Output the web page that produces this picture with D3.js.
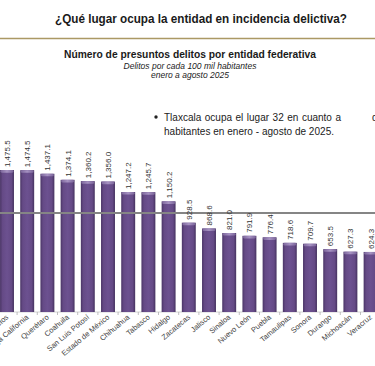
<!DOCTYPE html>
<html>
<head>
<meta charset="utf-8">
<script src="https://cdn.jsdelivr.net/npm/d3@7"></script>
<style>
  body { margin: 0; background: #fff; }
  svg { display: block; font-family: "Liberation Sans", Arial, sans-serif; }
</style>
</head>
<body>
<div id="chart"></div>
<script>
// Datos (delitos por cada 100 mil habitantes)
const entidades = [
  "Morelos", "Baja California", "Querétaro", "Coahuila", "San Luis Potosí",
  "Estado de México", "Chihuahua", "Tabasco", "Hidalgo", "Zacatecas",
  "Jalisco", "Sinaloa", "Nuevo León", "Puebla", "Tamaulipas",
  "Sonora", "Durango", "Michoacán", "Veracruz"
];
const tasas = [
  1475.5, 1474.5, 1437.1, 1374.1, 1360.2,
  1356.0, 1247.2, 1245.7, 1150.2, 928.5,
  868.6, 821.0, 791.9, 776.4, 718.6,
  709.7, 653.5, 627.3, 624.3
];
const promedioNacional = 1030;

const titulo = "¿Qué lugar ocupa la entidad en incidencia delictiva?";
const subtitulo = "Número de presuntos delitos por entidad federativa";
const notas = ["Delitos por cada 100 mil habitantes", "enero a agosto 2025"];

const W = 375, H = 366;
const step = 20.2;
const baseY = 312;

const svg = d3.select("#chart").append("svg")
  .attr("width", W).attr("height", H);

// gradient for the bars
const defs = svg.append("defs");
const grad = defs.append("linearGradient").attr("id", "barGrad")
  .attr("x1", "0").attr("x2", "1").attr("y1", "0").attr("y2", "0");
[[0, "#4a3566"], [0.18, "#654a86"], [0.5, "#6c5190"], [0.82, "#654a86"], [1, "#45325f"]]
  .forEach(s => grad.append("stop").attr("offset", s[0]).attr("stop-color", s[1]));
const capGrad = defs.append("linearGradient").attr("id", "capGrad")
  .attr("x1", "0").attr("x2", "1").attr("y1", "0").attr("y2", "0");
[[0, "#7d679c"], [0.5, "#a692c2"], [1, "#7a6499"]]
  .forEach(s => capGrad.append("stop").attr("offset", s[0]).attr("stop-color", s[1]));

// header
svg.append("text")
  .attr("x", 55).attr("y", 23)
  .attr("textLength", 292).attr("lengthAdjust", "spacingAndGlyphs")
  .attr("font-size", 13).attr("font-weight", "bold").attr("fill", "#1a1a1a")
  .text(titulo);

svg.append("line")
  .attr("x1", 0).attr("x2", W).attr("y1", 38.5).attr("y2", 38.5)
  .attr("stroke", "#ab9964").attr("stroke-width", 1.5);

svg.append("text")
  .attr("x", 64).attr("y", 58)
  .attr("textLength", 252).attr("lengthAdjust", "spacingAndGlyphs")
  .attr("font-size", 10.5).attr("font-weight", "bold").attr("fill", "#1a1a1a")
  .text(subtitulo);

svg.selectAll(".nota")
  .data(notas)
  .join("text")
  .attr("class", "nota")
  .attr("x", 190)
  .attr("y", (d, i) => 69 + i * 9)
  .attr("text-anchor", "middle")
  .attr("font-size", 8.5).attr("font-style", "italic").attr("fill", "#222")
  .text(d => d);

// bullet text (first line is justified: widen the word gaps)
svg.append("circle").attr("cx", 156).attr("cy", 117).attr("r", 1.7).attr("fill", "#222");
const linea1 = svg.append("text")
  .attr("x", 164).attr("y", 121)
  .attr("font-size", 10).attr("fill", "#222")
  .text("Tlaxcala ocupa el lugar 32 en cuanto a");
const natural = linea1.node().getComputedTextLength();
linea1.attr("word-spacing", Math.max(0, (177 - natural) / 7));
svg.append("text")
  .attr("x", 372).attr("y", 121)
  .attr("font-size", 10).attr("fill", "#222")
  .text("d");
svg.append("text")
  .attr("x", 164).attr("y", 135)
  .attr("textLength", 170).attr("lengthAdjust", "spacing")
  .attr("font-size", 10).attr("fill", "#222")
  .text("habitantes en enero - agosto de 2025.");

// scales
const x = d3.scaleBand()
  .domain(entidades)
  .range([7 - step / 2, 7 - step / 2 + step * entidades.length])
  .paddingInner(0.31)
  .paddingOuter(0.155);

const y = d3.scaleLinear()
  .domain([0, 1600])
  .range([baseY, baseY - 1600 * 0.0962]);

const data = entidades.map((e, i) => ({ entidad: e, valor: tasas[i] }));

// x axis (ticks between bars)
const axis = svg.append("g").attr("transform", `translate(0,${baseY})`);
axis.append("line")
  .attr("x1", 0).attr("x2", W)
  .attr("stroke", "#c8c8c8").attr("stroke-width", 0.8);
axis.selectAll(".tick")
  .data(entidades)
  .join("line")
  .attr("x1", d => x(d) - (x.step() - x.bandwidth()) / 2)
  .attr("x2", d => x(d) - (x.step() - x.bandwidth()) / 2)
  .attr("y1", 0).attr("y2", 3)
  .attr("stroke", "#b0b0b0").attr("stroke-width", 0.8);

// bars
const bars = svg.append("g");
bars.selectAll(".bar")
  .data(data)
  .join("rect")
  .attr("class", "bar")
  .attr("x", d => x(d.entidad))
  .attr("y", d => y(d.valor))
  .attr("width", x.bandwidth())
  .attr("height", d => baseY - y(d.valor))
  .attr("fill", "url(#barGrad)");

bars.selectAll(".cap")
  .data(data)
  .join("rect")
  .attr("class", "cap")
  .attr("x", d => x(d.entidad) + 0.5)
  .attr("y", d => y(d.valor))
  .attr("width", x.bandwidth() - 1)
  .attr("height", 2.6)
  .attr("rx", 1.3)
  .attr("fill", "url(#capGrad)");

// national average line
svg.append("line")
  .attr("x1", 0).attr("x2", W)
  .attr("y1", y(promedioNacional)).attr("y2", y(promedioNacional))
  .attr("stroke", "#858585").attr("stroke-width", 2);

// value labels
const fmt = d3.format(",.1f");
svg.append("g").selectAll("text")
  .data(data)
  .join("text")
  .attr("transform", d => `translate(${x(d.entidad) + x.bandwidth() / 2 + 3},${y(d.valor) - 3}) rotate(-90)`)
  .attr("font-size", 8).attr("fill", "#333")
  .text(d => fmt(d.valor));

// category labels
svg.append("g").selectAll("text")
  .data(data)
  .join("text")
  .attr("transform", d => `translate(${x(d.entidad) + x.bandwidth() / 2 + 2},${baseY + 6}) rotate(-40)`)
  .attr("text-anchor", "end")
  .attr("font-size", 7.5).attr("fill", "#444")
  .text(d => d.entidad);
</script>
</body>
</html>
